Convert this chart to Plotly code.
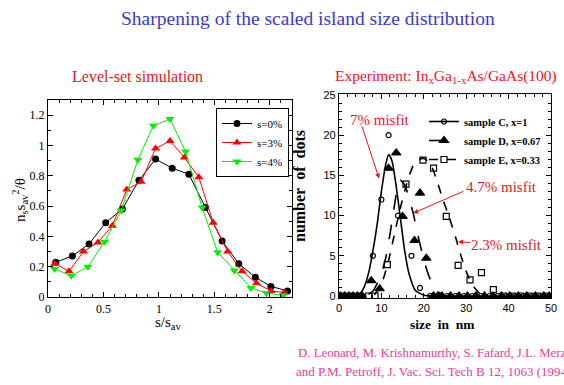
import plotly.graph_objects as go

# ---------------- Left panel: level-set simulation ----------------
s0_x = [0.07, 0.22, 0.37, 0.52, 0.67, 0.82, 0.97, 1.12, 1.27, 1.42, 1.57, 1.72, 1.87, 2.01, 2.16]
s0_y = [0.23, 0.27, 0.35, 0.49, 0.58, 0.77, 0.91, 0.85, 0.81, 0.59, 0.37, 0.22, 0.13, 0.07, 0.04]
s3_x = [0.06, 0.19, 0.32, 0.45, 0.58, 0.71, 0.84, 0.97, 1.10, 1.23, 1.36, 1.49, 1.62, 1.75, 1.88, 2.01, 2.13]
s3_y = [0.22, 0.17, 0.30, 0.36, 0.47, 0.71, 0.76, 0.98, 1.03, 0.92, 0.79, 0.49, 0.30, 0.17, 0.09, 0.04, 0.03]
s4_x = [0.06, 0.21, 0.36, 0.51, 0.66, 0.81, 0.95, 1.10, 1.24, 1.39, 1.53, 1.68, 1.83, 1.97, 2.12]
s4_y = [0.185, 0.14, 0.20, 0.365, 0.57, 0.905, 1.13, 1.175, 0.96, 0.59, 0.295, 0.175, 0.06, 0.026, 0.01]
left_names = ["s=0%", "s=3%", "s=4%"]

# ---------------- Right panel: experiment ----------------
# fitted curves
c_fit_x = [0, 3, 5, 6, 7, 8, 9, 10, 11, 11.7, 12.5, 13.5, 14.5, 15.5, 16.5, 18, 20, 23, 50]
c_fit_y = [0, 0, 0.3, 1.2, 2.9, 5.6, 8.9, 13.0, 16.3, 17.6, 16.8, 13.6, 9.6, 5.6, 2.8, 0.7, 0.1, 0, 0]
d_fit_x = [0, 6, 8, 10, 11, 12, 13, 14, 14.5, 15.5, 16.5, 17.5, 18.5, 19.5, 20.5, 21.5, 23, 25, 50]
d_fit_y = [0, 0, 0.6, 2.8, 4.7, 7.6, 11.0, 14.0, 14.4, 13.8, 12.2, 10.3, 7.8, 5.6, 3.6, 2.1, 0.7, 0, 0]
e_fit_x = [0, 8, 10, 11.5, 13, 14.5, 16, 17.5, 19, 20, 21.5, 23, 24.5, 26, 27.5, 29, 30.5, 32, 34, 50]
e_fit_y = [0, 0, 1.5, 4.0, 7.5, 11.0, 14.0, 16.2, 17.0, 17.1, 16.5, 14.5, 12.0, 9.8, 7.3, 4.6, 2.4, 1.0, 0, 0]

# measured histograms
c_pts_x = [0.5, 1.5, 2.5, 3.5, 4.5, 5.5, 8.0, 10.0, 11.7, 13.9, 17.1, 19.1, 21.5, 23.5, 25.5, 27.5,
           29.5, 31.5, 33.5, 35.5, 37.5, 39.5, 41.5, 43.5, 45.5, 47.5, 49.5]
c_pts_y = [0, 0, 0, 0, 0, 0, 5, 12, 20, 10, 5, 1, 0, 0, 0, 0,
           0, 0, 0, 0, 0, 0, 0, 0, 0, 0, 0]
d_pts_x = [0.3, 1.3, 2.3, 3.3, 4.3, 5.3, 7.6, 9.6, 11.7, 13.5, 15.0, 17.8, 19.1, 20.6, 22.3, 23.3,
           24.3, 26.3, 28.3, 30.3, 32.3, 34.3, 36.3, 38.3, 40.3, 42.3, 44.3, 46.3, 48.3, 49.6]
d_pts_y = [0, 0, 0, 0, 0, 0, 1.9, 0.9, 15.9, 17.8, 9.9, 6.9, 12.8, 4.7, 0, 0,
           0, 0, 0, 0, 0, 0, 0, 0, 0, 0, 0, 0, 0, 0]
e_pts_x = [1.0, 3.0, 5.0, 7.0, 8.5, 11.4, 15.8, 19.8, 22.3, 25.3, 28.1, 30.9, 33.6, 36.4,
           38.8, 40.8, 42.8, 44.8, 46.8, 48.8]
e_pts_y = [0, 0, 0, 0, 0, 3.9, 13.9, 16.9, 15.9, 9.9, 3.8, 2.0, 2.9, 0.8,
           0, 0, 0, 0, 0, 0]
right_names = ["<b>sample C, x=1</b>", "<b>sample D, x=0.67</b>", "<b>sample E, x=0.33</b>"]

SERIF = "Liberation Serif"
SANS = "Liberation Sans"
W, H = 564, 385
RED = "#e8141e"

fig = go.Figure()

left_series = [(s0_x, s0_y, "black", "circle", 7), (s3_x, s3_y, "#ff0000", "triangle-up", 8),
               (s4_x, s4_y, "#00ee00", "triangle-down", 8)]
for (xs, ys, col, sym, sz), nm in zip(left_series, left_names):
    fig.add_trace(go.Scatter(x=xs, y=ys, mode="lines+markers", name=nm,
                             line=dict(color=col, width=1),
                             marker=dict(color=col, symbol=sym, size=sz),
                             xaxis="x", yaxis="y", legend="legend"))

right_series = [
    (c_fit_x, c_fit_y, c_pts_x, c_pts_y, "solid", "circle-open", 5),
    (d_fit_x, d_fit_y, d_pts_x, d_pts_y, "longdash", "triangle-up", 8),
    (e_fit_x, e_fit_y, e_pts_x, e_pts_y, "dash", "square-open", 6),
]
for (fx, fy, px, py, dash, sym, sz), nm in zip(right_series, right_names):
    fig.add_trace(go.Scatter(x=fx, y=fy, mode="lines+markers", name=nm,
                             line=dict(color="black", width=1.6, dash=dash, shape="spline", smoothing=0.6),
                             marker=dict(color="black", symbol=sym, size=sz, line=dict(width=1.2, color="black")),
                             selectedpoints=[], unselected=dict(marker=dict(opacity=0)),
                             xaxis="x2", yaxis="y2", legend="legend2", legendgroup=nm))
    fig.add_trace(go.Scatter(x=px, y=py, mode="markers", name=nm, showlegend=False,
                             marker=dict(color="black", symbol=sym, size=sz, line=dict(width=1.2, color="black")),
                             xaxis="x2", yaxis="y2", legendgroup=nm))

def px2x(p):
    return p / W

def px2y(p):
    return 1 - p / H

axis_common = dict(showgrid=False, zeroline=False, showline=True, linecolor="black", linewidth=1.2,
                   mirror="ticks", ticks="inside", tickcolor="black", ticklen=5)

fig.update_layout(
    width=W, height=H, margin=dict(l=0, r=0, t=0, b=0, autoexpand=False),
    paper_bgcolor="white", plot_bgcolor="white",
    xaxis=dict(domain=[px2x(48), px2x(292)], range=[0, 2.2], anchor="y", dtick=0.5, tick0=0,
               tickfont=dict(family=SERIF, size=12, color="black"),
               minor=dict(dtick=0.1, ticks="inside", ticklen=3, tickcolor="black", showgrid=False),
               **axis_common),
    yaxis=dict(domain=[px2y(297), px2y(100)], range=[0, 1.3], anchor="x", dtick=0.2, tick0=0,
               tickfont=dict(family=SERIF, size=12, color="black"),
               minor=dict(dtick=0.1, ticks="inside", ticklen=3, tickcolor="black", showgrid=False),
               **axis_common),
    xaxis2=dict(domain=[px2x(339), px2x(551)], range=[0, 50], anchor="y2", dtick=10, tick0=0,
                tickfont=dict(family=SANS, size=11, color="black"),
                minor=dict(dtick=2, ticks="inside", ticklen=3, tickcolor="black", showgrid=False),
                **axis_common),
    yaxis2=dict(domain=[px2y(298), px2y(94)], range=[-0.25, 25.12], anchor="x2", dtick=5, tick0=0,
                tickfont=dict(family=SANS, size=11, color="black"),
                minor=dict(dtick=1, ticks="inside", ticklen=3, tickcolor="black", showgrid=False),
                **axis_common),
    legend=dict(x=px2x(216), y=px2y(108), xanchor="left", yanchor="top",
                bordercolor="black", borderwidth=1, bgcolor="white",
                font=dict(family=SERIF, size=11, color="black"), itemwidth=30, tracegroupgap=0),
    legend2=dict(x=px2x(424), y=px2y(107), xanchor="left", yanchor="top",
                 bgcolor="rgba(0,0,0,0)", borderwidth=0,
                 font=dict(family=SERIF, size=10.5, color="black"), itemwidth=30, tracegroupgap=0),
)

ann = []
# slide title & panel titles
ann.append(dict(text="Sharpening of the scaled island size distribution", x=px2x(308), y=px2y(18),
                font=dict(family=SERIF, size=19.5, color="#3a3acc")))
ann.append(dict(text="Level-set simulation", x=px2x(137), y=px2y(76),
                font=dict(family=SERIF, size=16, color=RED)))
ann.append(dict(text="Experiment: In<sub>x</sub>Ga<sub>1-x</sub>As/GaAs(100)", x=px2x(446), y=px2y(77),
                font=dict(family=SERIF, size=15.5, color=RED)))
# axis titles
ann.append(dict(text="n<sub>s</sub>s<sub>av</sub><sup>2</sup>/θ", x=px2x(20), y=px2y(200), textangle=-90,
                font=dict(family=SERIF, size=15, color="black")))
ann.append(dict(text="s/s<sub>av</sub>", x=px2x(168), y=px2y(323),
                font=dict(family=SERIF, size=15, color="black")))
ann.append(dict(text="<b>number\u00a0\u00a0of\u00a0\u00a0dots</b>", x=px2x(300), y=px2y(186), textangle=-90,
                font=dict(family=SERIF, size=16, color="black")))
ann.append(dict(text="<b>size\u00a0\u00a0in\u00a0\u00a0nm</b>", x=px2x(442), y=px2y(324),
                font=dict(family=SERIF, size=13.5, color="black")))
for a in ann:
    a.update(xanchor="center", yanchor="middle")
# citation
ann.append(dict(text="D. Leonard, M. Krishnamurthy, S. Fafard, J.L. Merz", x=px2x(296), y=px2y(353),
                xanchor="left", yanchor="middle", font=dict(family=SERIF, size=12.8, color="#e6409c")))
ann.append(dict(text="and P.M. Petroff, J. Vac. Sci. Tech B 12, 1063 (1994)", x=px2x(294), y=px2y(371),
                xanchor="left", yanchor="middle", font=dict(family=SERIF, size=13, color="#e6409c")))
for a in ann:
    a.update(xref="paper", yref="paper", showarrow=False)

# misfit labels and arrows (data coords of right panel)
labels = [("7% misfit", 9.6, 21.9), ("4.7% misfit", 38.4, 13.5), ("2.3% misfit", 39.4, 6.3)]
for t, lx, ly in labels:
    ann.append(dict(text=t, x=lx, y=ly, xref="x2", yref="y2", showarrow=False,
                    xanchor="center", yanchor="middle",
                    font=dict(family=SERIF, size=15, color=RED)))
arrows = [((5.3, 21.3), (9.45, 14.6)), ((29.7, 13.1), (17.5, 10.3)), ((31.3, 6.63), (28.1, 6.75))]
for (tx, ty), (hx, hy) in arrows:
    ann.append(dict(text="", x=hx, y=hy, ax=tx, ay=ty, xref="x2", yref="y2", axref="x2", ayref="y2",
                    showarrow=True, arrowhead=2, arrowsize=1, arrowwidth=1, arrowcolor=RED))

fig.update_layout(annotations=ann)
fig.write_html("out.html", config={"displayModeBar": False},
               post_script="document.body.style.margin='0';document.body.style.overflow='hidden';")
